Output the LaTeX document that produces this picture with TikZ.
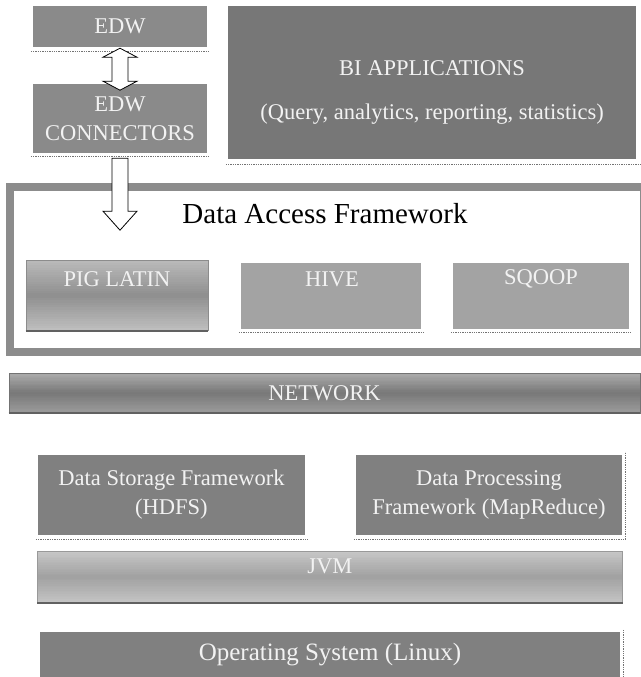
\documentclass[tikz,border=0pt]{standalone}
\usepackage{fontspec}
\setmainfont{Liberation Serif}
\usetikzlibrary{calc}
\definecolor{edwgray}{HTML}{8A8A8A}
\definecolor{bigray}{HTML}{777777}
\definecolor{framegray}{HTML}{8C8C8C}
\definecolor{hivegray}{HTML}{A3A3A3}
\definecolor{midgray}{HTML}{808080}
\definecolor{txtwhite}{HTML}{F2F2F2}
\begin{document}
\begin{tikzpicture}[x=1pt,y=-1pt,
  box/.style={draw=none, inner sep=0pt, text=txtwhite, font=\fontsize{22.5}{29}\selectfont, align=center},
  lbl/.style={inner sep=0pt, text=txtwhite, font=\fontsize{22.5}{29}\selectfont, align=center},
  shadowline/.style={densely dotted, line width=1.3pt, black!55},
  darkedge/.style={line width=1.8pt, black!62},
  blockarrow/.style={draw=black, fill=white, line width=0.8pt, line join=miter},
  gradbox/.style n args={3}{path picture={
    \foreach \i in {0,...,29}{
      \pgfmathsetmacro\tt{(\i+0.5)/30}
      \pgfmathsetmacro\cc{\tt<0.5 ? #1+(#2-#1)*\tt*2 : #2+(#3-#2)*(\tt-0.5)*2}
      \pgfmathsetmacro\fa{\i/30}
      \pgfmathsetmacro\fb{(\i+1)/30}
      \fill[black!\cc] ($(path picture bounding box.north west)!\fa!(path picture bounding box.south west)$)
        rectangle ($($(path picture bounding box.north east)!\fb!(path picture bounding box.south east)$)+(0,0.8)$);
    }}},
  piggrad/.style={gradbox={27}{44}{25}, draw=black!45, line width=0.6pt},
  netgrad/.style={gradbox={32}{53}{39}, draw=black!55, line width=0.6pt},
  jvmgrad/.style={gradbox={22}{37}{23}, draw=black!40, line width=0.6pt},
]
\useasboundingbox (0,0) rectangle (640,677);

% top left
\node[box, fill=edwgray, minimum width=174pt, minimum height=41pt] (edw) at (120,26.5) {EDW};
\node[box, fill=edwgray, minimum width=174pt, minimum height=69pt] (edwc) at (120,118.5) {EDW\\CONNECTORS};
\draw[shadowline] ($(edw.south west)+(-2,4)$) -- ($(edw.south east)+(2,4)$);
\draw[shadowline] ($(edwc.south west)+(-2,3)$) -- ($(edwc.south east)+(2,3)$);

% BI
\node[box, fill=bigray, minimum width=408pt, minimum height=153pt] (bi) at (432,82.5) {};
\node[lbl] (bitext) at (432,92) {BI APPLICATIONS\\[15pt](Query, analytics, reporting, statistics)};
\draw[shadowline] ($(bi.south west)+(-2,5)$) -- ($(bi.south east)+(4,5)$);

% Data access framework
\node[draw=framegray, line width=8pt, minimum width=634pt, minimum height=165pt, inner sep=0pt] (daf) at (327,269.5) {};
\node[inner sep=0pt, font=\fontsize{29}{29}\selectfont] (daftitle) at (325,214) {Data Access Framework};

\node[box, piggrad, minimum width=182pt, minimum height=70pt] (pig) at (117,295.5) {};
\draw[darkedge] (pig.south west) -- (pig.south east);
\node[lbl] (pigtext) at (117,279) {PIG LATIN};

\node[box, fill=hivegray, minimum width=180pt, minimum height=66pt] (hive) at (331,295.5) {};
\node[lbl] (hivetext) at (332,279) {HIVE};
\draw[shadowline] ($(hive.south west)+(-2,4)$) -- ($(hive.south east)+(2,4)$);

\node[box, fill=hivegray, minimum width=176pt, minimum height=66pt] (sqoop) at (541,295.5) {};
\node[lbl] (sqooptext) at (541,279) {SQOOP};
\draw[shadowline] ($(sqoop.south west)+(-2,4)$) -- ($(sqoop.south east)+(2,4)$);

% arrows
\draw[blockarrow] ($(edw.south)+(0,1)$) -- ++(17,9) -- ++(-9,0) -- ++(0,24) -- ++(9,0)
  -- ++(-17,9) -- ++(-17,-9) -- ++(9,0) -- ++(0,-24) -- ++(-9,0) -- cycle;
\draw[blockarrow] ($(edwc.south)+(-8,5)$) -- ++(16,0) -- ++(0,53) -- ++(9,0)
  -- ++(-17,19) -- ++(-17,-19) -- ++(9,0) -- cycle;

% network
\node[box, netgrad, minimum width=631pt, minimum height=40pt] (net) at (324.5,393) {NETWORK};
\draw[darkedge] (net.south west) -- (net.south east);

% storage / processing
\node[box, fill=midgray, minimum width=267pt, minimum height=80pt] (hdfs) at (171.5,495) {Data Storage Framework\\(HDFS)};
\draw[shadowline] ($(hdfs.south west)+(-2,4)$) -- ($(hdfs.south east)+(3,4)$);
\node[box, fill=midgray, minimum width=266pt, minimum height=80pt] (mr) at (489,495) {Data Processing\\Framework (MapReduce)};
\draw[shadowline] ($(mr.south west)+(-2,4)$) -- ($(mr.south east)+(3,4)$) -- ($(mr.north east)+(3,-3)$);

% JVM
\node[box, jvmgrad, minimum width=585pt, minimum height=51pt] (jvm) at (330,577) {};
\draw[darkedge] (jvm.south west) -- (jvm.south east);
\node[lbl] (jvmtext) at (330,566) {JVM};

% OS
\node[box, fill=midgray, minimum width=580pt, minimum height=46pt, font=\fontsize{25}{25}\selectfont] (os) at (330,655) {Operating System (Linux)};
\draw[shadowline] ($(os.north east)+(3,-2)$) -- ($(os.south east)+(3,0)$);
\end{tikzpicture}
\end{document}
